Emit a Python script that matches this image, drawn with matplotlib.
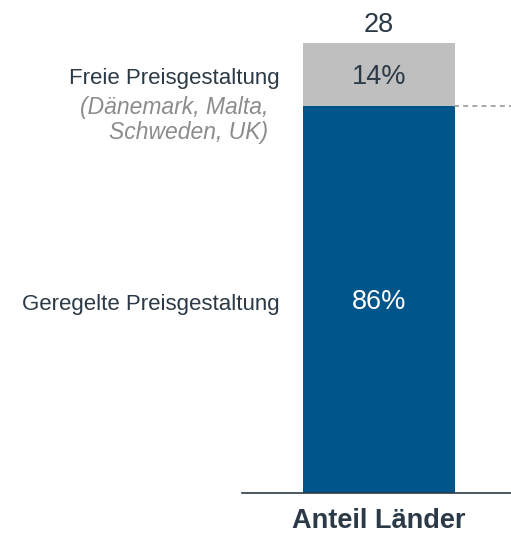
import matplotlib.pyplot as plt

plt.rcParams['font.family'] = ['Liberation Sans', 'DejaVu Sans']

# Daten
kategorie = ["Anteil Länder"]
anzahl = 28
geregelt = [86]
frei = [14]
label_geregelt = "Geregelte Preisgestaltung"
label_frei = "Freie Preisgestaltung"
label_frei_laender = ["(Dänemark, Malta,", "Schweden, UK)"]

BLAU = "#00558A"
GRAU = "#BFBFBF"
TEXT = "#2B3A46"
GRAU_TEXT = "#8C8C8C"

fig = plt.figure(figsize=(5.11, 5.34), dpi=100)
ax = fig.add_axes([242 / 511, 1 - 493 / 534, 269 / 511, 450 / 534])

x = [0]
ax.bar(x, geregelt, width=1, color=BLAU)
ax.bar(x, frei, width=1, bottom=geregelt, color=GRAU)
ax.set_xlim(-0.901, 0.868)
ax.set_ylim(0, 100)

# Werte in den Segmenten
ax.annotate(f"{geregelt[0]}%", (0, geregelt[0] / 2), xytext=(0, -1.5),
            textcoords="offset points", ha="center", va="center",
            fontsize=19.5, color="white")
ax.annotate(f"{frei[0]}%", (0, geregelt[0] + frei[0] / 2), xytext=(0, -1.5),
            textcoords="offset points", ha="center", va="center",
            fontsize=19.5, color=TEXT)
ax.annotate(str(anzahl), (0, geregelt[0] + frei[0]), xytext=(0, 8),
            textcoords="offset points", ha="center", va="baseline",
            fontsize=19.5, color=TEXT, annotation_clip=False)

# Beschriftungen links
ax.annotate(label_frei, (-0.5, geregelt[0] + frei[0] / 2), xytext=(-16.5, -3.2),
            textcoords="offset points", ha="right", va="center",
            fontsize=16, color=TEXT, annotation_clip=False)
ax.annotate(label_frei_laender[0], (-0.5, geregelt[0] + frei[0] / 2), xytext=(-25, -23.5),
            textcoords="offset points", ha="right", va="center",
            fontsize=16.5, color=GRAU_TEXT, style="italic", annotation_clip=False)
ax.annotate(label_frei_laender[1], (-0.5, geregelt[0] + frei[0] / 2), xytext=(-25, -41.5),
            textcoords="offset points", ha="right", va="center",
            fontsize=16.5, color=GRAU_TEXT, style="italic", annotation_clip=False)
ax.annotate(label_geregelt, (-0.5, geregelt[0] / 2), xytext=(-16.5, -3.5),
            textcoords="offset points", ha="right", va="center",
            fontsize=16, color=TEXT, annotation_clip=False)

# gestrichelte Linie an der Grenze
ax.plot([0.49, 0.868], [geregelt[0], geregelt[0]], color="#9A9A9A",
        lw=1.2, ls=(0, (3, 2.5)), clip_on=False)

ax.set_xticks(x)
ax.set_xticklabels(kategorie, fontsize=19.5, fontweight="bold", color=TEXT)
ax.tick_params(axis="x", length=0, pad=10.5)
ax.set_yticks([])
for s in ["top", "right", "left"]:
    ax.spines[s].set_visible(False)
ax.spines["bottom"].set_color(TEXT)
ax.spines["bottom"].set_linewidth(1.2)

fig.savefig("out.png", dpi=100)
